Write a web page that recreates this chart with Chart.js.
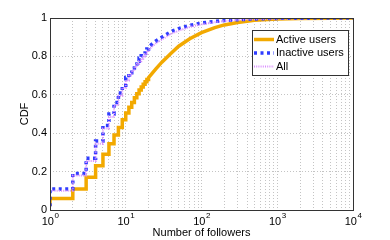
<!DOCTYPE html>
<html lang="en">
  <head>
    <meta charset="UTF-8" />
    <title>CDF of followers</title>
    <script src="https://cdn.jsdelivr.net/npm/chart.js@4/dist/chart.umd.min.js"></script>
    <style>
      body { margin: 0; background: #fff; }
    </style>
  </head>
  <body>
    <canvas id="chart1" width="390" height="240"></canvas>
    <script>
      // number of followers (x) and CDF values
      const followers = [1, 2, 3, 4, 5, 6, 7, 8, 9, 10, 11, 12, 13, 14, 15, 16, 17, 18, 19, 20, 25, 30, 40, 50, 70, 100, 150, 200, 300, 500, 1000, 2000, 5000, 10000];
      const activeCdf = [0.06, 0.11, 0.17, 0.23, 0.29, 0.345, 0.39, 0.43, 0.47, 0.505, 0.535, 0.56, 0.585, 0.605, 0.625, 0.64, 0.655, 0.668, 0.68, 0.69, 0.735, 0.77, 0.818, 0.853, 0.892, 0.924, 0.95, 0.964, 0.977, 0.988, 0.995, 0.998, 0.999, 1];
      const inactiveCdf = [0.11, 0.19, 0.27, 0.36, 0.44, 0.5, 0.56, 0.61, 0.65, 0.69, 0.715, 0.74, 0.76, 0.775, 0.79, 0.803, 0.815, 0.827, 0.839, 0.85, 0.88, 0.9, 0.93, 0.945, 0.962, 0.974, 0.982, 0.987, 0.991, 0.995, 0.998, 0.999, 1, 1];
      const allCdf = [0.1, 0.18, 0.255, 0.345, 0.425, 0.485, 0.545, 0.595, 0.635, 0.675, 0.7, 0.725, 0.745, 0.76, 0.775, 0.788, 0.8, 0.812, 0.824, 0.835, 0.868, 0.888, 0.918, 0.934, 0.953, 0.967, 0.978, 0.984, 0.99, 0.994, 0.997, 0.999, 1, 1];
      const startCdf = 0.02;   // where each curve starts at x = 1
      const stepUntil = 20;    // integer stairs are visible up to here
      const xTickLabels = ['0', '1', '2', '3', '4'];  // exponents of 10
      const seriesNames = ['Active users', 'Inactive users', 'All'];

      // turn the read values into stair vertices (stepped 'after' style) for small counts
      function stairs(xs, ys) {
        const pts = [{ x: xs[0], y: startCdf }, { x: xs[0], y: ys[0] }];
        for (let i = 1; i < xs.length; i++) {
          if (xs[i] <= stepUntil) pts.push({ x: xs[i], y: ys[i - 1] });
          pts.push({ x: xs[i], y: ys[i] });
        }
        return pts;
      }

      const fontFamily = '"Liberation Sans", Arial, sans-serif';

      const data = {
        datasets: [{
          label: seriesNames[0],
          data: stairs(followers, activeCdf),
          borderColor: '#f2a900',
          borderWidth: 3.5,
          order: 3
        }, {
          label: seriesNames[1],
          data: stairs(followers, inactiveCdf),
          borderColor: '#2f3cff',
          borderWidth: 3.5,
          borderDash: [3, 3.5],
          order: 2
        }, {
          label: seriesNames[2],
          data: stairs(followers, allCdf),
          borderColor: '#d98cff',
          borderWidth: 2,
          borderDash: [1, 1.2],
          order: 1
        }]
      };

      // box, x tick labels, axis titles and legend, drawn the matlab way
      const matlabFrame = {
        id: 'matlabFrame',
        afterDraw(chart) {
          const { ctx, chartArea: { top, bottom, left, right }, scales: { x } } = chart;
          ctx.save();

          //box
          ctx.strokeStyle = '#333';
          ctx.lineWidth = 1;
          ctx.setLineDash([]);
          ctx.strokeRect(left + 0.5, top + 0.5, right - left, bottom - top);

          //x tick labels 10^k
          ctx.fillStyle = '#000';
          ctx.textBaseline = 'alphabetic';
          ctx.textAlign = 'left';
          xTickLabels.forEach(k => {
            const px = x.getPixelForValue(Math.pow(10, +k));
            ctx.font = '11px ' + fontFamily;
            const w1 = ctx.measureText('10').width;
            ctx.font = '8px ' + fontFamily;
            const w2 = ctx.measureText(k).width;
            const x0 = px - (w1 + w2) / 2;
            ctx.font = '11px ' + fontFamily;
            ctx.fillText('10', x0, 225);
            ctx.font = '8px ' + fontFamily;
            ctx.fillText(k, x0 + w1 + 0.5, 218);
          });

          //axis titles
          ctx.font = '11px ' + fontFamily;
          ctx.textAlign = 'center';
          ctx.textBaseline = 'middle';
          ctx.fillText('Number of followers', (left + right) / 2, 233);
          ctx.save();
          ctx.translate(25, (top + bottom) / 2);
          ctx.rotate(-Math.PI / 2);
          ctx.fillText('CDF', 0, 0);
          ctx.restore();

          //legend
          ctx.fillStyle = '#fff';
          ctx.fillRect(252, 30, 96, 45);
          ctx.strokeStyle = '#333';
          ctx.strokeRect(252.5, 30.5, 96, 45);
          chart.data.datasets.forEach((ds, i) => {
            const y = 39.5 + i * 13.5;
            ctx.strokeStyle = ds.borderColor;
            ctx.lineWidth = ds.borderWidth;
            ctx.setLineDash(ds.borderDash || []);
            ctx.beginPath();
            ctx.moveTo(254, y);
            ctx.lineTo(274, y);
            ctx.stroke();
            ctx.setLineDash([]);
            ctx.fillStyle = '#000';
            ctx.textAlign = 'left';
            ctx.fillText(ds.label, 276, y);
          });

          ctx.restore();
        }
      };

      const config = {
        type: 'line',
        data: data,
        options: {
          responsive: false,
          animation: false,
          layout: { padding: { top: 18, right: 37, left: 0, bottom: 0 } },
          elements: {
            point: { radius: 0 },
            line: { tension: 0, fill: false, borderCapStyle: 'butt', borderJoinStyle: 'miter' }
          },
          plugins: { legend: { display: false }, tooltip: { enabled: false } },
          scales: {
            x: {
              type: 'logarithmic',
              min: 1,
              max: 10000,
              afterBuildTicks(scale) {
                const ticks = [];
                for (let e = 0; e < 4; e++) {
                  for (let m = 1; m < 10; m++) ticks.push({ value: m * Math.pow(10, e) });
                }
                ticks.push({ value: 10000 });
                scale.ticks = ticks;
              },
              afterFit(scale) { scale.height = 30; },
              ticks: { display: false },
              grid: { color: '#c4c4c4', lineWidth: 1, drawTicks: false },
              border: { display: false, dash: [1, 2] }
            },
            y: {
              min: 0,
              max: 1,
              afterFit(scale) { scale.width = 50; },
              ticks: {
                stepSize: 0.2,
                padding: 3,
                color: '#000',
                font: { family: fontFamily, size: 11 },
                callback: v => String(Number(v.toFixed(1)))
              },
              grid: { color: '#c4c4c4', lineWidth: 1, drawTicks: false },
              border: { display: false, dash: [1, 2] }
            }
          }
        },
        plugins: [matlabFrame]
      };

      const myChart = new Chart(document.getElementById('chart1'), config);
    </script>
  </body>
</html>
